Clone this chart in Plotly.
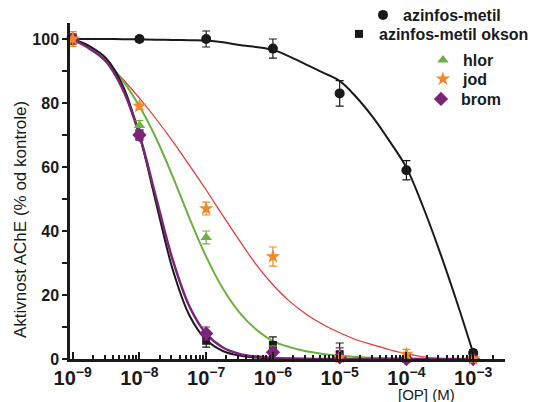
import plotly.graph_objects as go

# measured points (concentration in M, activity in % of control)
conc = [1e-9, 1e-8, 1e-7, 1e-6, 1e-5, 1e-4, 1e-3]

azinfos = [100, 100, 100, 97, 83, 59, 1.9]
azinfos_err = [1, 0.8, 2.5, 3, 4, 3, 1]

okson = [100, 70, 5.7, 4.4, 1.5, 0, 0]
okson_err = [1.5, 1.5, 2, 2.5, 3.5, 0.5, 0.5]

hlor = [100, 73, 38, 3, 0.5, 0, 0]
hlor_err = [1.5, 1.5, 2, 1, 0.5, 0, 0]

jod = [100, 79, 47, 32, 0.5, 1.5, 0]
jod_err = [2.3, 1, 2, 3, 0.5, 1.5, 0.5]

brom = [100, 70, 8, 2.1, 0.5, 0, 0]
brom_err = [1.5, 1.5, 2, 1, 3, 0, 0]

# fitted curves (quarter-decade steps)
fit_conc = [1e-9, 1.78e-9, 3.16e-9, 5.62e-9, 1e-8, 1.78e-8, 3.16e-8, 5.62e-8,
            1e-7, 1.78e-7, 3.16e-7, 5.62e-7, 1e-6, 1.78e-6, 3.16e-6, 5.62e-6,
            1e-5, 1.78e-5, 3.16e-5, 5.62e-5, 1e-4, 1.78e-4, 3.16e-4, 5.62e-4,
            1e-3]
azinfos_fit = [100, 100, 100, 99.95, 99.9, 99.8, 99.7, 99.6, 99.5, 99.0,
               98.1, 97.5, 96.6, 94.5, 92, 89.5, 86.9, 81.8, 75.5, 68, 59.8,
               47.5, 33.5, 18.2, 1.9]
okson_fit = [100, 97.8, 94, 85.5, 70, 48.7, 27.9, 13.6, 6.0, 2.5, 1.05, 0.45,
             0.2, 0.08, 0.03, 0.01, 0, 0, 0, 0, 0, 0, 0, 0, 0]
brom_fit = [100, 97, 93, 84.3, 70, 50.4, 30.9, 16.4, 7.9, 3.6, 1.6, 0.75,
            0.35, 0.15, 0.06, 0.02, 0.01, 0, 0, 0, 0, 0, 0, 0, 0]
hlor_fit = [100, 97.3, 93, 87, 79, 69, 57, 44, 32, 22, 14.5, 9.2, 5.6, 3.7,
            2.4, 1.55, 1.0, 0.65, 0.4, 0.22, 0.1, 0.05, 0.03, 0.01, 0]
jod_fit = [99.5, 97, 93, 87.5, 81.5, 75, 68, 60.5, 52.8, 44.8, 37, 29.5, 23.2,
           18, 14, 10.8, 8.2, 6.0, 4.4, 2.9, 1.6, 0.7, 0.2, 0, 0]

black = "#1a1a1a"
green = "#6ab23e"
orange = "#f0892a"
purple = "#7b2478"
red = "#ee3030"

fig = go.Figure()

# curves
fig.add_trace(go.Scatter(x=fit_conc, y=azinfos_fit, mode="lines",
                         line=dict(color=black, width=2, shape="spline"),
                         showlegend=False, hoverinfo="skip"))
fig.add_trace(go.Scatter(x=fit_conc, y=jod_fit, mode="lines",
                         line=dict(color=red, width=1.2, shape="spline"),
                         showlegend=False, hoverinfo="skip"))
fig.add_trace(go.Scatter(x=fit_conc, y=hlor_fit, mode="lines",
                         line=dict(color=green, width=2, shape="spline"),
                         showlegend=False, hoverinfo="skip"))
fig.add_trace(go.Scatter(x=fit_conc, y=okson_fit, mode="lines",
                         line=dict(color=black, width=2, shape="spline"),
                         showlegend=False, hoverinfo="skip"))
fig.add_trace(go.Scatter(x=fit_conc, y=brom_fit, mode="lines",
                         line=dict(color=purple, width=2.5, shape="spline"),
                         showlegend=False, hoverinfo="skip"))


def points(y, err, name, color, symbol, size, legend):
    return go.Scatter(x=conc, y=y, mode="markers", name=name, legend=legend,
                      cliponaxis=False,
                      marker=dict(color=color, symbol=symbol, size=size,
                                  line=dict(width=0)),
                      error_y=dict(type="data", array=err, color=color,
                                   thickness=1.2, width=4))


fig.add_trace(points(azinfos, azinfos_err, "azinfos-metil", black, "circle", 10, "legend"))
fig.add_trace(points(okson, okson_err, "azinfos-metil okson", black, "square", 8, "legend2"))
fig.add_trace(points(hlor, hlor_err, "hlor", green, "triangle-up", 10, "legend3"))
fig.add_trace(points(brom, brom_err, "brom", purple, "diamond", 11, "legend5"))
fig.add_trace(points(jod, jod_err, "jod", orange, "star", 11, "legend4"))

font = dict(family="Arial, Liberation Sans, sans-serif", color=black)

# the page body adds an 8px offset, so the figure is 8px smaller
W, H = 530, 394


def leg(px, py):
    return dict(x=px / W, y=1 - py / H, xref="container", yref="container",
                xanchor="left", yanchor="middle", bgcolor="rgba(0,0,0,0)",
                borderwidth=0, itemwidth=30,
                font=dict(family=font["family"], color=black, size=16, weight="bold"))


fig.update_layout(
    width=W, height=H,
    margin=dict(l=62, r=33, t=15, b=43, autoexpand=False),
    plot_bgcolor="white", paper_bgcolor="white",
    font=font,
    showlegend=True,
    legend=leg(355, 7),
    legend2=leg(331, 26),
    legend3=leg(415, 52),
    legend4=leg(415, 71),
    legend5=leg(413, 91),
    xaxis=dict(type="log", range=[-9.04, -2.523], dtick=1,
               exponentformat="power", showgrid=False, zeroline=False,
               showline=True, linewidth=2.5, linecolor=black,
               ticks="inside", ticklen=7, tickwidth=2, tickcolor=black,
               tickangle=0,
               minor=dict(ticks="inside", ticklen=4, tickwidth=1.5,
                          tickcolor=black, dtick="D1", showgrid=False),
               tickfont=dict(size=16, weight="bold", color=black)),
    yaxis=dict(range=[0, 105], tickvals=[0, 20, 40, 60, 80, 100],
               showgrid=False, zeroline=False,
               showline=True, linewidth=2.5, linecolor=black,
               ticks="outside", ticklen=5, tickwidth=2, tickcolor=black,
               minor=dict(ticks="outside", ticklen=5, tickwidth=2,
                          tickcolor=black, dtick=10, showgrid=False),
               tickfont=dict(size=16, weight="bold", color=black)),
    annotations=[
        dict(text="Aktivnost AChE (% od kontrole)", textangle=-90,
             x=(12 - 62) / 435, y=(351 - 212) / 336, xref="paper", yref="paper",
             xanchor="center", yanchor="middle",
             showarrow=False, font=dict(size=17, color=black)),
        dict(text="[OP] (M)", x=(418 - 62) / 435, y=(351 - 386.5) / 336,
             xref="paper", yref="paper", xanchor="center", yanchor="middle",
             showarrow=False, borderpad=0, font=dict(size=15, color=black)),
    ],
)

fig.write_html("out.html")
